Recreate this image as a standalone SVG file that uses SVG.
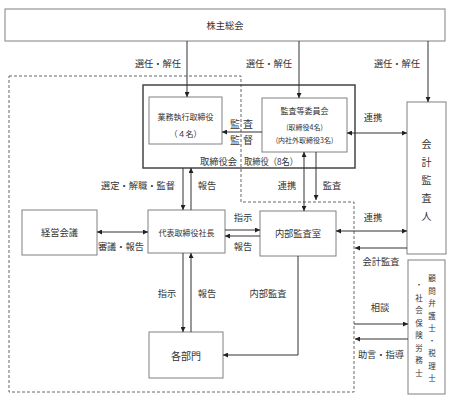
<svg xmlns="http://www.w3.org/2000/svg" width="466" height="401" viewBox="0 0 466 401">
<defs>
<marker id="ah" viewBox="0 0 10 10" refX="10" refY="5" markerWidth="5" markerHeight="5" markerUnits="userSpaceOnUse" orient="auto-start-reverse"><path d="M0,0 L10,5 L0,10 z" fill="#222"/></marker>
</defs>
<style>
.box{fill:#fff;stroke:#808080;stroke-width:1}
.t{font-family:"Noto Sans CJK JP","Noto Sans CJK SC",sans-serif;fill:#333;text-anchor:middle;dominant-baseline:central;font-size:9.25px}
.s{font-size:8px}
.xs{font-size:7px}
.c{stroke:#333;stroke-width:1;fill:none}
.a{marker-end:url(#ah)}
.b{marker-start:url(#ah);marker-end:url(#ah)}
</style>
<rect width="466" height="401" fill="#fff"/>
<path d="M9,76 H241 V202 H354 V392 H9 Z" fill="none" stroke="#666" stroke-width="1" stroke-dasharray="3 2"/>

<g id="kabunushi"><rect class="box" x="5" y="9" width="440" height="32"/><text class="t" x="225" y="25">株主総会</text></g>
<g id="torishimariyakukai"><rect x="143" y="85" width="212" height="83" fill="none" stroke="#444" stroke-width="1.5"/>
<text class="t" x="218.5" y="161">取締役会</text><text class="t" x="244" y="161" style="text-anchor:start" textLength="54" lengthAdjust="spacingAndGlyphs">取締役（8名）</text></g>
<g id="gyomu"><rect class="box" x="149" y="97" width="73" height="47"/><text class="t s" x="185.5" y="116">業務執行取締役</text><text class="t s" x="185.5" y="133">（４名）</text></g>
<g id="kansa-iinkai"><rect class="box" x="262" y="98" width="85" height="54"/><text class="t s" x="304.5" y="110">監査等委員会</text><text class="t xs" x="304.5" y="127">(取締役4名)</text><text class="t xs" x="304.5" y="140">(内社外取締役3名)</text></g>
<g id="kaikei"><rect class="box" x="407" y="102" width="39" height="152"/><text class="t" style="font-size:10px"><tspan x="426.5" y="143">会</tspan><tspan x="426.5" y="161">計</tspan><tspan x="426.5" y="179">監</tspan><tspan x="426.5" y="197">査</tspan><tspan x="426.5" y="215">人</tspan></text></g>
<g id="keiei"><rect class="box" x="22" y="210" width="75" height="45"/><text class="t" x="59.5" y="232">経営会議</text></g>
<g id="daihyo"><rect class="box" x="148" y="210" width="77" height="43"/><text class="t s" x="186.5" y="232">代表取締役社長</text></g>
<g id="naibu"><rect class="box" x="260" y="211" width="76" height="45"/><text class="t" x="298" y="233">内部監査室</text></g>
<g id="kakubumon"><rect class="box" x="149" y="332" width="74" height="46"/><text class="t" style="font-size:10px" x="186" y="355">各部門</text></g>
<g id="komon"><rect class="box" x="408" y="260" width="37" height="134"/>
<text class="t" style="font-size:7.5px"><tspan x="432" y="277">顧</tspan><tspan x="432" y="289.5">問</tspan><tspan x="432" y="302">弁</tspan><tspan x="432" y="314.5">護</tspan><tspan x="432" y="327">士</tspan><tspan x="432" y="339.5">・</tspan><tspan x="432" y="352">税</tspan><tspan x="432" y="364.5">理</tspan><tspan x="432" y="377">士</tspan></text>
<text class="t" style="font-size:7.5px"><tspan x="419" y="284">・</tspan><tspan x="419" y="296.5">社</tspan><tspan x="419" y="309">会</tspan><tspan x="419" y="321.5">保</tspan><tspan x="419" y="334">険</tspan><tspan x="419" y="346.5">労</tspan><tspan x="419" y="359">務</tspan><tspan x="419" y="371.5">士</tspan></text></g>

<g id="connectors">
<path class="c a" d="M187,41 V97"/>
<path class="c a" d="M299,41 V98"/>
<path class="c a" d="M428,41 V102"/>
<path class="c a" d="M262,132 H222"/>
<path class="c b" d="M347,133 H407"/>
<path class="c a" d="M183,168 V210"/>
<path class="c a" d="M191,210 V168"/>
<path class="c b" d="M97,232 H148"/>
<path class="c a" d="M225,230 H260"/>
<path class="c a" d="M260,236 H225"/>
<path class="c b" d="M304,152 V211"/>
<path class="c a" d="M316,152 V200"/>
<path class="c b" d="M336,231 H407"/>
<path class="c a" d="M407,248 H355"/>
<path class="c a" d="M354,324 H408"/>
<path class="c a" d="M408,339 H355"/>
<path class="c a" d="M183,253 V332"/>
<path class="c a" d="M191,332 V253"/>
<path class="c a" d="M298,256 V355 H223"/>
</g>

<g id="labels">
<text class="t" x="158" y="63">選任・解任</text>
<text class="t" x="269" y="63">選任・解任</text>
<text class="t" x="397" y="63">選任・解任</text>
<text class="t" style="font-size:10px"><tspan x="235" y="123">監</tspan><tspan x="248" y="123">査</tspan></text>
<text class="t" style="font-size:10px"><tspan x="235" y="139">監</tspan><tspan x="248" y="139">督</tspan></text>
<text class="t" x="373" y="117">連携</text>
<text class="t" x="138" y="185">選定・解職・監督</text>
<text class="t" x="207" y="185">報告</text>
<text class="t" x="287" y="185">連携</text>
<text class="t" x="332" y="185">監査</text>
<text class="t" x="121" y="246">審議・報告</text>
<text class="t" x="243" y="217">指示</text>
<text class="t" x="243" y="246">報告</text>
<text class="t" x="373" y="217">連携</text>
<text class="t" x="381" y="261">会計監査</text>
<text class="t" x="380" y="307">相談</text>
<text class="t" x="381" y="354">助言・指導</text>
<text class="t" x="167" y="293">指示</text>
<text class="t" x="207" y="293">報告</text>
<text class="t" x="268" y="293">内部監査</text>
</g>
</svg>
